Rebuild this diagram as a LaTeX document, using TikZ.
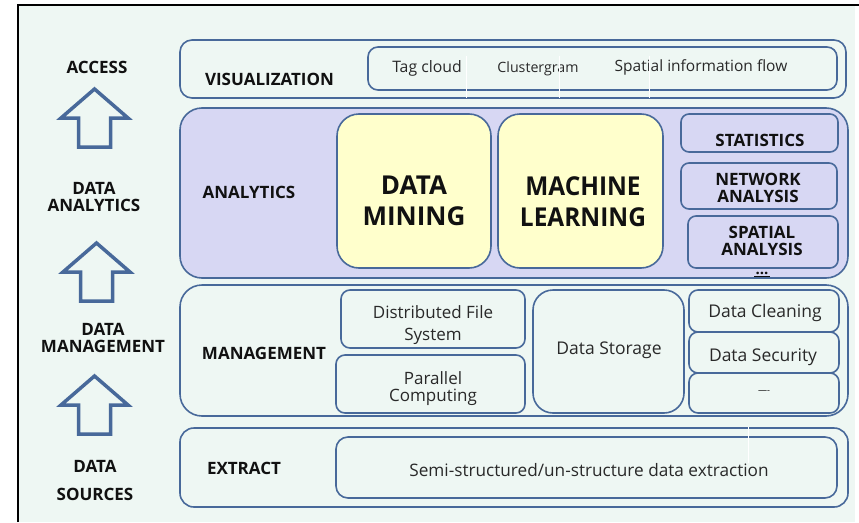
\documentclass[tikz,border=0pt]{standalone}
\usepackage{fontspec}
\setmainfont{Open Sans}
\definecolor{paper}{HTML}{EEF7F3}
\definecolor{edge}{HTML}{48699A}
\definecolor{lavender}{HTML}{D7D7F3}
\definecolor{cream}{HTML}{FFFFCC}
\definecolor{ink}{HTML}{111111}
\tikzset{
  layer/.style={draw=edge, line width=1.6pt, rounded corners=12pt, fill=paper, inner sep=0pt},
  cell/.style={draw=edge, line width=1.6pt, rounded corners=9pt, fill=paper, inner sep=0pt},
  bigcell/.style={draw=edge, line width=1.6pt, rounded corners=22pt, fill=cream, inner sep=0pt},
  subcell/.style={draw=edge, line width=1.6pt, rounded corners=8pt, fill=lavender, inner sep=0pt},
  tag/.style={font=\fontsize{17}{17}\selectfont\bfseries, text=ink, align=center, inner sep=0pt},
  bigtag/.style={font=\fontsize{26}{31}\selectfont\bfseries, text=ink, align=center, inner sep=0pt},
  plain/.style={font=\fontsize{17.5}{22}\selectfont, text=ink!90, align=center, inner sep=0pt},
  uparrow/.style={draw=edge, line width=3.5pt, fill=paper, line join=miter},
  gap/.style={draw=white, line width=0.9pt},
}
% hollow upward block arrow: centre x, tip y
\newcommand\blockarrow[2]{%
  \draw[uparrow] (#1,#2) -- (#1+33.5,#2+29) -- (#1+16,#2+29) -- (#1+16,#2+58)
    -- (#1-16,#2+58) -- (#1-16,#2+29) -- (#1-33.5,#2+29) -- cycle;}
\begin{document}
\begin{tikzpicture}[x=1pt,y=-1pt]
\useasboundingbox (0,0) rectangle (859,522);
\fill[white] (0,0) rectangle (859,522);
\fill[paper] (18,5) rectangle (855,522);
\draw[black, line width=2pt] (18,522) -- (18,5) -- (859,5);

% ---- left column: stages and arrows
\node[tag] (access) at (97,67) {ACCESS};
\blockarrow{94.5}{89}
\node[tag] (dana) at (94,197) {DATA\\ANALYTICS};
\blockarrow{96.5}{243}
\node[tag] (dman) at (103,338) {DATA\\MANAGEMENT};
\blockarrow{94.5}{376}
\node[tag, font=\fontsize{17}{28}\selectfont\bfseries] (dsrc) at (95,480) {DATA\\SOURCES};

% ---- visualization layer
\node[layer, minimum width=666pt, minimum height=58pt] (vis) at (513,69) {};
\node[cell, rounded corners=10pt, minimum width=469pt, minimum height=43pt] (visin) at (602.5,68.5) {};
\node[tag] (vislbl) at (269.5,79) {VISUALIZATION};
\node[plain, font=\fontsize{15.8}{18}\selectfont] (tagcloud) at (427,68) {Tag cloud};
\node[plain, font=\fontsize{14.2}{18}\selectfont] (cgram) at (538,69) {Clustergram};
\node[plain, font=\fontsize{15.5}{18}\selectfont] (sflow) at (701,67) {Spatial information flow};
\draw[gap] (466,56) -- (466,98);
\draw[gap] (559,56) -- (559,98);
\draw[gap] (649,56) -- (649,98);

% ---- analytics layer
\node[layer, rounded corners=22pt, fill=lavender, minimum width=668pt, minimum height=170pt] (ana) at (514,193) {};
\node[tag] (analbl) at (249,192) {ANALYTICS};
\node[bigcell, minimum width=154pt, minimum height=154pt] (dm) at (414,191) {};
\node[bigtag] at (414,201) {DATA\\MINING};
\node[bigcell, minimum width=165pt, minimum height=154pt] (ml) at (580.5,191) {};
\node[bigtag] at (583,202) {\scalebox{0.94}[1]{MACHINE}\\\scalebox{0.94}[1]{LEARNING}};
\node[subcell, minimum width=157pt, minimum height=38pt] (stat) at (759.5,133) {};
\node[tag] at (760,140) {STATISTICS};
\node[subcell, minimum width=156pt, minimum height=46pt] (net) at (759,186) {};
\node[tag] at (758,187.5) {NETWORK\\ANALYSIS};
\node[subcell, minimum width=150pt, minimum height=52pt] (spat) at (763,242) {};
\node[tag] at (762,241) {SPATIAL\\ANALYSIS};
\node[tag, font=\fontsize{15}{15}\selectfont\bfseries, anchor=base] (more) at (762,274.5) {...};
\draw[ink, line width=0.8pt] (754,276.5) -- (770,276.5);

% ---- management layer
\node[layer, rounded corners=22pt, minimum width=668pt, minimum height=131pt] (man) at (514,350.5) {};
\node[tag] (manlbl) at (264,353) {MANAGEMENT};
\node[cell, minimum width=184pt, minimum height=58pt] (dfs) at (433,319) {};
\node[plain, font=\fontsize{17}{22}\selectfont] at (433,325) {Distributed File\\System};
\node[cell, minimum width=189pt, minimum height=58pt] (par) at (430.5,384) {};
\node[plain, font=\fontsize{17}{17.5}\selectfont] at (433,388.5) {Parallel\\Computing};
\node[cell, rounded corners=20pt, minimum width=151pt, minimum height=123pt] (store) at (608.5,351.5) {};
\node[plain] at (609,350) {Data Storage};
\node[cell, minimum width=150pt, minimum height=42pt] (clean) at (764,311) {};
\node[plain] at (765,313) {Data Cleaning};
\node[cell, minimum width=150pt, minimum height=41pt] (secu) at (764,352.5) {};
\node[plain] at (763,357) {Data Security};
\node[cell, minimum width=150pt, minimum height=40pt] (etc) at (764,393) {};
\node[plain, text=ink, font=\fontsize{9}{9}\selectfont] at (764,392) {----};

% ---- extract layer
\node[layer, rounded corners=14pt, minimum width=668pt, minimum height=79pt] (ext) at (514,467.5) {};
\node[tag] (extlbl) at (244,468) {EXTRACT};
\node[cell, rounded corners=12pt, minimum width=501pt, minimum height=61pt] (extin) at (586.5,467.5) {};
\node[plain, font=\fontsize{17.2}{22}\selectfont] at (589,470) {Semi-structured/un-structure data extraction};
\draw[gap] (748,427) -- (748,463);
\end{tikzpicture}
\end{document}
